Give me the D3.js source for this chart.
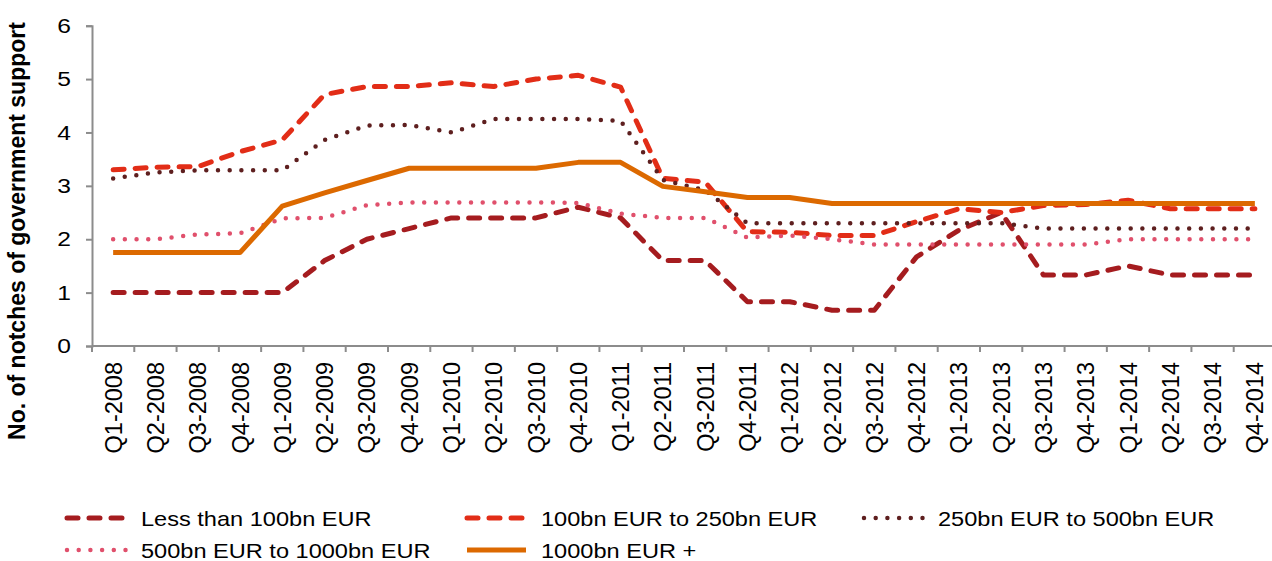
<!DOCTYPE html>
<html>
<head>
<meta charset="utf-8">
<script src="https://cdn.jsdelivr.net/npm/d3@7"></script>
<style>
  body { margin: 0; background: #fff; }
  text { font-family: "Liberation Sans", Arial, sans-serif; fill: #000; }
</style>
</head>
<body>
<div id="chart"></div>
<script>
// Chart size
const width = 1272;
const height = 561;

// Categories (quarters)
const quarters = ["Q1-2008", "Q2-2008", "Q3-2008", "Q4-2008", "Q1-2009", "Q2-2009", "Q3-2009", "Q4-2009",
  "Q1-2010", "Q2-2010", "Q3-2010", "Q4-2010", "Q1-2011", "Q2-2011", "Q3-2011", "Q4-2011",
  "Q1-2012", "Q2-2012", "Q3-2012", "Q4-2012", "Q1-2013", "Q2-2013", "Q3-2013", "Q4-2013",
  "Q1-2014", "Q2-2014", "Q3-2014", "Q4-2014"];

// Series values
const lessThan100 = [1, 1, 1, 1, 1, 1.6, 2, 2.2, 2.4, 2.4, 2.4, 2.6, 2.4, 1.6, 1.6, 0.83,
  0.83, 0.67, 0.67, 1.67, 2.17, 2.5, 1.33, 1.33, 1.5, 1.33, 1.33, 1.33];
const from100to250 = [3.3, 3.35, 3.36, 3.64, 3.86, 4.71, 4.86, 4.86, 4.93, 4.86, 5.0, 5.07, 4.85, 3.14, 3.07, 2.14,
  2.13, 2.07, 2.07, 2.33, 2.57, 2.5, 2.63, 2.65, 2.73, 2.57, 2.57, 2.57];
const from250to500 = [3.14, 3.25, 3.29, 3.29, 3.29, 3.86, 4.13, 4.14, 4.0, 4.25, 4.25, 4.25, 4.22, 3.11, 2.92, 2.3,
  2.3, 2.3, 2.3, 2.3, 2.3, 2.3, 2.2, 2.2, 2.2, 2.2, 2.2, 2.2];
const from500to1000 = [2.0, 2.0, 2.09, 2.11, 2.39, 2.4, 2.64, 2.69, 2.69, 2.69, 2.69, 2.68, 2.48, 2.4, 2.4, 2.03,
  2.07, 2.0, 1.9, 1.9, 1.9, 1.9, 1.9, 1.9, 2.0, 2.0, 2.0, 2.0];
const over1000 = [1.75, 1.75, 1.75, 1.75, 2.62, 2.87, 3.1, 3.33, 3.33, 3.33, 3.33, 3.44, 3.44, 2.99, 2.89, 2.78,
  2.78, 2.67, 2.67, 2.67, 2.67, 2.67, 2.67, 2.67, 2.67, 2.67, 2.67, 2.67];

const yTicks = [0, 1, 2, 3, 4, 5, 6];

// Series styles
const series = [
  { name: "Less than 100bn EUR", values: lessThan100, color: "#a51c1f", width: 5, dash: "11,11" },
  { name: "100bn EUR to 250bn EUR", values: from100to250, color: "#e22d17", width: 5, dash: "11,11" },
  { name: "250bn EUR to 500bn EUR", values: from250to500, color: "#5e1f1f", width: 4.5, dash: "0,11.7" },
  { name: "500bn EUR to 1000bn EUR", values: from500to1000, color: "#e0506c", width: 4.5, dash: "0,11.7" },
  { name: "1000bn EUR +", values: over1000, color: "#dc6900", width: 5, dash: null }
];

const svg = d3.select("#chart")
  .append("svg")
  .attr("width", width)
  .attr("height", height);

// Plot area
const plotLeft = 92, plotRight = 1276, plotTop = 25.7, plotBottom = 346;

const x = d3.scalePoint()
  .domain(quarters)
  .range([plotLeft, plotRight])
  .padding(0.5);

const xBand = d3.scaleBand()
  .domain(quarters)
  .range([plotLeft, plotRight]);

const y = d3.scaleLinear()
  .domain([0, 6])
  .range([plotBottom, plotTop]);

const axisColor = "#8c8c8c";

// Y axis
const yAxis = svg.append("g")
  .attr("transform", `translate(${plotLeft},0)`)
  .call(d3.axisLeft(y).tickValues(yTicks).tickFormat(d3.format("d")).tickSize(6));
yAxis.select(".domain").attr("stroke", axisColor).attr("stroke-width", 2);
yAxis.selectAll(".tick line").attr("stroke", axisColor).attr("stroke-width", 2);
// the reference glyphs are a bit wider than Arial, so stretch them sideways
yAxis.selectAll(".tick text")
  .attr("x", -17.5)
  .attr("transform", "scale(1.2,1)")
  .style("font-size", "20.5px")
  .attr("fill", "#000");

// X axis: ticks at category boundaries
const xAxis = svg.append("g")
  .attr("transform", `translate(0,${plotBottom})`);
xAxis.append("line")
  .attr("x1", plotLeft).attr("x2", plotRight)
  .attr("stroke", axisColor).attr("stroke-width", 2);
xAxis.selectAll("line.tick")
  .data(quarters)
  .enter().append("line")
  .attr("class", "tick")
  .attr("x1", d => xBand(d)).attr("x2", d => xBand(d))
  .attr("y1", 0).attr("y2", 6)
  .attr("stroke", axisColor).attr("stroke-width", 2);
xAxis.selectAll("text")
  .data(quarters)
  .enter().append("text")
  .attr("transform", d => `translate(${x(d) + 8.5},16) rotate(-90)`)
  .attr("text-anchor", "end")
  .style("font-size", "23.5px")
  .text(d => d);

// Y axis title
svg.append("text")
  .attr("transform", "translate(25,231) rotate(-90)")
  .attr("text-anchor", "middle")
  .style("font-size", "23px")
  .style("font-weight", "bold")
  .text("No. of notches of government support");

// Lines
const line = d3.line()
  .x((d, i) => x(quarters[i]))
  .y(d => y(d));

svg.selectAll("path.series")
  .data(series)
  .enter().append("path")
  .attr("class", "series")
  .attr("d", d => line(d.values))
  .attr("fill", "none")
  .attr("stroke", d => d.color)
  .attr("stroke-width", d => d.width)
  .attr("stroke-dasharray", d => d.dash)
  .attr("stroke-linecap", d => d.dash ? "round" : "butt")
  .attr("stroke-linejoin", "round");

// Legend
const legendPos = [[65, 518], [465, 518], [862, 518], [65, 550], [465, 550]];
const legend = svg.selectAll("g.legend")
  .data(series)
  .enter().append("g")
  .attr("class", "legend")
  .attr("transform", (d, i) => `translate(${legendPos[i][0]},${legendPos[i][1]})`);
legend.append("line")
  .attr("x1", 2).attr("x2", 61)
  .attr("stroke", d => d.color)
  .attr("stroke-width", d => d.width)
  .attr("stroke-dasharray", d => d.dash)
  .attr("stroke-linecap", d => d.dash ? "round" : "butt");
legend.append("text")
  .attr("transform", "translate(76,7.5) scale(1.15,1)")
  .style("font-size", "20.5px")
  .text(d => d.name);
</script>
</body>
</html>
